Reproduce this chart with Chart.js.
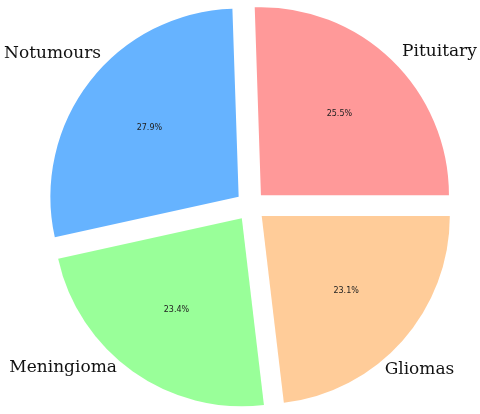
<!DOCTYPE html>
<html>
<head>
<meta charset="utf-8">
<script src="https://cdn.jsdelivr.net/npm/chart.js@4.4.0/dist/chart.umd.min.js"></script>
<style>
  html, body { margin: 0; padding: 0; background: #ffffff; }
  #wrap { width: 480px; height: 414px; }
</style>
</head>
<body>
<div id="wrap"><canvas id="c" width="480" height="414"></canvas></div>
<script>
// Data (listed clockwise from 3 o'clock, as Chart.js draws)
const categories = ['Gliomas', 'Meningioma', 'Notumours', 'Pituitary'];
const shares = [23.1, 23.4, 27.9, 25.5];
const sliceColors = ['#ffcc99', '#99ff99', '#66b3ff', '#ff9999'];

// Outer label placement (polar, relative to pie centre: degrees, multiple of radius, alignment)
const labelPlacement = {
  'Gliomas':    { angle: 50.6,  r: 1.124, align: 'left' },
  'Meningioma': { angle: 129.5, r: 1.117, align: 'right' },
  'Notumours':  { angle: 225.5, r: 1.134, align: 'right' },
  'Pituitary':  { angle: 314.5, r: 1.15,  align: 'left' }
};

const pieLabels = {
  id: 'pieLabels',
  afterDatasetsDraw(chart) {
    const ctx = chart.ctx;
    const meta = chart.getDatasetMeta(0);
    const ds = chart.data.datasets[0];
    const total = ds.data.reduce((a, b) => a + b, 0);
    ctx.save();
    meta.data.forEach((arc, i) => {
      const p = arc.getProps(['x', 'y', 'startAngle', 'endAngle', 'outerRadius', 'circumference']);
      const mid = (p.startAngle + p.endAngle) / 2;
      const off = (arc.options.offset || 0) / 4;
      const fix = 1 - Math.sin(Math.min(Math.PI, p.circumference || 0));
      const shift = off + off * fix;
      const ax = p.x + Math.cos(mid) * shift;
      const ay = p.y + Math.sin(mid) * shift;
      // percentage label
      const pct = (ds.data[i] / total * 100).toFixed(1) + '%';
      ctx.font = '8px "DejaVu Sans"';
      ctx.fillStyle = '#222222';
      ctx.textAlign = 'center';
      ctx.textBaseline = 'middle';
      ctx.fillText(pct, ax + Math.cos(mid) * p.outerRadius * 0.6, ay + Math.sin(mid) * p.outerRadius * 0.6);
      // category label
      const lp = labelPlacement[chart.data.labels[i]];
      const a = lp.angle * Math.PI / 180;
      ctx.font = '17px "DejaVu Serif"';
      ctx.fillStyle = '#111111';
      ctx.textAlign = lp.align;
      ctx.textBaseline = 'middle';
      ctx.fillText(chart.data.labels[i], p.x + Math.cos(a) * p.outerRadius * lp.r, p.y + Math.sin(a) * p.outerRadius * lp.r);
    });
    ctx.restore();
  }
};

new Chart(document.getElementById('c'), {
  type: 'pie',
  data: {
    labels: categories,
    datasets: [{
      data: shares,
      backgroundColor: sliceColors,
      hoverBackgroundColor: sliceColors,
      borderWidth: 0,
      offset: 60,
      hoverOffset: 0
    }]
  },
  options: {
    responsive: false,
    devicePixelRatio: 1,
    animation: false,
    rotation: 90,
    radius: 188,
    layout: { padding: { left: 21, right: 0, top: 0, bottom: 2 } },
    plugins: {
      legend: { display: false },
      tooltip: { enabled: false }
    },
    events: []
  },
  plugins: [pieLabels]
});
</script>
</body>
</html>
